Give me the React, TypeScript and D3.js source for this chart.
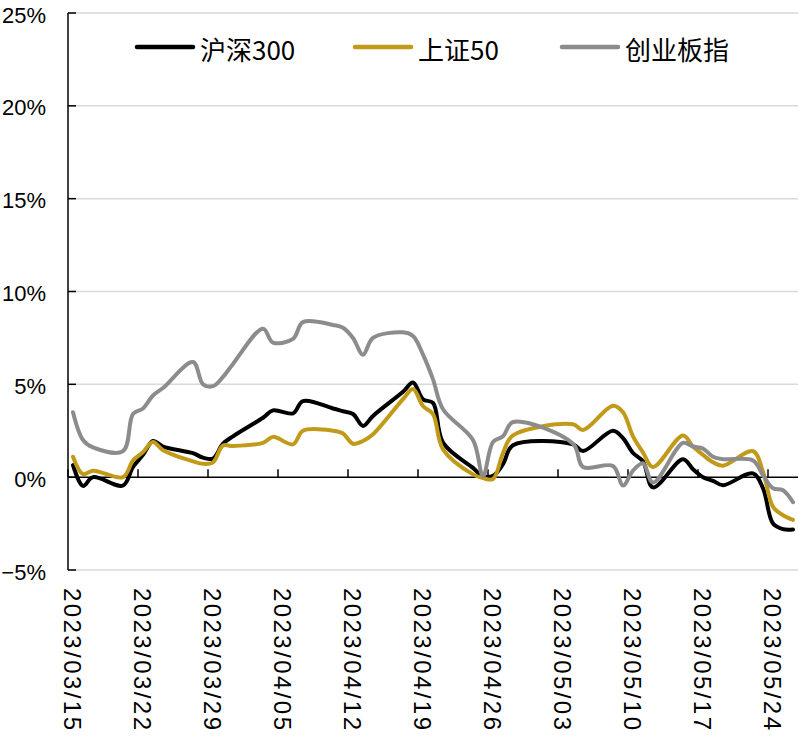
import React from 'react';
import * as d3 from 'd3';

// trading days shown on the chart
const dates = [
  '2023-03-15', '2023-03-16', '2023-03-17', '2023-03-20', '2023-03-21', '2023-03-22', '2023-03-23', '2023-03-24',
  '2023-03-27', '2023-03-28', '2023-03-29', '2023-03-30', '2023-03-31',
  '2023-04-03', '2023-04-04', '2023-04-06', '2023-04-07', '2023-04-10', '2023-04-11', '2023-04-12', '2023-04-13', '2023-04-14',
  '2023-04-17', '2023-04-18', '2023-04-19', '2023-04-20', '2023-04-21', '2023-04-24', '2023-04-25', '2023-04-26', '2023-04-27', '2023-04-28',
  '2023-05-04', '2023-05-05', '2023-05-08', '2023-05-09', '2023-05-10', '2023-05-11', '2023-05-12',
  '2023-05-15', '2023-05-16', '2023-05-17', '2023-05-18', '2023-05-19', '2023-05-22', '2023-05-23', '2023-05-24', '2023-05-25', '2023-05-26',
];

// 沪深300 (%)
const hs300 = [
  0.65, -0.47, 0.0, -0.45, 0.55, 1.2, 1.95, 1.65,
  1.29, 1.05, 1.0, 1.8, 2.2,
  3.2, 3.6, 3.44, 4.1, 3.7, 3.55, 3.4, 2.76, 3.3,
  4.6, 5.1, 4.19, 4.0, 1.86, 0.5, 0.05, 0.07, 0.7, 1.72,
  1.77, 1.41, 2.5, 2.1, 1.3, 0.85, -0.55,
  0.97, 0.43, 0.0, -0.2, -0.43, 0.2, -0.6, -2.5, -2.8, -2.82,
];

// 上证50 (%)
const sz50 = [
  1.1, 0.16, 0.35, 0.0, 0.9, 1.35, 1.9, 1.45,
  0.85, 0.72, 0.8, 1.7, 1.68,
  1.85, 2.17, 1.77, 2.5, 2.5, 2.35, 1.8, 1.95, 2.31,
  4.2, 4.75, 3.83, 3.4, 1.5, 0.15, -0.05, -0.1, 1.3, 2.25,
  2.85, 2.54, 3.85, 3.5, 2.2, 1.33, 0.55,
  2.25, 1.65, 1.2, 0.8, 0.62, 1.4, 0.3, -1.6, -2.05, -2.3,
];

// 创业板指 (%)
const cyb = [
  3.5, 2.0, 1.6, 1.4, 3.4, 3.7, 4.4, 4.8,
  6.2, 5.0, 4.9, 5.4, 6.1,
  8.0, 7.25, 7.45, 8.35, 8.2, 8.05, 7.5, 6.6, 7.5,
  7.8, 7.6, 6.6, 5.27, 3.66, 2.0, 0.05, 1.9, 2.2, 2.97,
  1.8, 0.55, 0.6, -0.45, 0.35, 0.75, -0.29,
  1.85, 1.65, 1.54, 1.1, 0.97, 0.9, 0.1, -0.6, -0.7, -1.35,
];

const seriesNames = ['沪深300', '上证50', '创业板指'];
const seriesColors = ['#000000', '#C09A18', '#8C8C8C'];
const yTickValues = [-5, 0, 5, 10, 15, 20, 25];

const W = 799;
const H = 739;
const left = 68;
const right = 798;
const top = 13;
const bottom = 570;

const parse = d3.timeParse('%Y-%m-%d');
const fmt = d3.timeFormat('%Y/%m/%d');

export default function App() {
  const days = dates.map((d) => parse(d) as Date);
  const start = parse('2023-03-15') as Date;
  const end = parse('2023-05-27') as Date;

  const x = d3.scaleTime().domain([start, end]).range([left, right]);
  const y = d3.scaleLinear().domain([-5, 25]).range([bottom, top]);

  // points sit in the middle of their day
  const mid = (d: Date) => x(d3.timeHour.offset(d, 12));

  const line = d3
    .line<number>()
    .x((_, i) => mid(days[i]))
    .y((v) => y(v))
    .curve(d3.curveCatmullRom.alpha(0.5));

  const weekTicks = d3.timeDay.range(start, parse('2023-05-25') as Date, 7);
  const allSeries = [hs300, sz50, cyb];

  const legendX = [137, 355, 562];
  const font = '"Liberation Sans", Arial, sans-serif';
  const cjk = '"Noto Sans CJK SC", "Liberation Sans", sans-serif';

  return (
    <svg width={W} height={H} style={{ position: 'absolute', left: 0, top: 0, background: '#fff' }}>
      {/* grid */}
      {yTickValues.filter((v) => v !== 0).map((v) => (
        <line key={'g' + v} x1={left} x2={right} y1={y(v)} y2={y(v)} stroke="#d9d9d9" strokeWidth={1.5} />
      ))}

      {/* y axis */}
      <line x1={left} x2={left} y1={top} y2={bottom} stroke="#000" strokeWidth={1.5} />
      {yTickValues.map((v) => (
        <g key={'y' + v}>
          <line x1={left} x2={left + 8} y1={y(v)} y2={y(v)} stroke="#000" strokeWidth={1.5} />
          <text x={46} y={y(v) + 2} textAnchor="end" dominantBaseline="central" fontFamily={font} fontSize={22} fill="#000">
            {(v < 0 ? '\u2212' + Math.abs(v) : v) + '%'}
          </text>
        </g>
      ))}

      {/* x axis on zero */}
      <line x1={left} x2={right} y1={y(0)} y2={y(0)} stroke="#000" strokeWidth={1.5} />
      {weekTicks.map((d) => (
        <g key={'x' + d.getTime()}>
          <line x1={x(d)} x2={x(d)} y1={y(0)} y2={y(0) - 8} stroke="#000" strokeWidth={1.5} />
          <text
            transform={`translate(${x(d) + 4},588) rotate(90)`}
            dominantBaseline="central"
            fontFamily={font}
            fontSize={24}
            textLength={142}
            lengthAdjust="spacing"
            fill="#000"
          >
            {fmt(d)}
          </text>
        </g>
      ))}

      {/* series */}
      {allSeries.map((s, i) => (
        <path
          key={seriesNames[i]}
          d={line(s) as string}
          fill="none"
          stroke={seriesColors[i]}
          strokeWidth={4}
          strokeLinejoin="round"
          strokeLinecap="round"
        />
      ))}

      {/* legend */}
      {seriesNames.map((n, i) => (
        <g key={'l' + n}>
          <line x1={legendX[i]} x2={legendX[i] + 56} y1={47} y2={47} stroke={seriesColors[i]} strokeWidth={4.5} strokeLinecap="round" />
          <text x={legendX[i] + 63} y={48} dominantBaseline="central" fontFamily={cjk} fontSize={26} fill="#000">
            {n}
          </text>
        </g>
      ))}
    </svg>
  );
}
